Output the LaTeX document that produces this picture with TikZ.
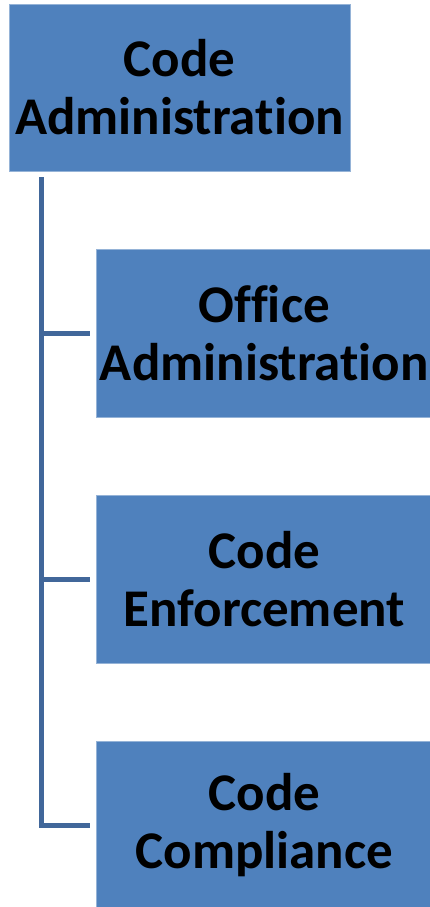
\documentclass[tikz,border=0pt]{standalone}
\usepackage{fontspec}
\setmainfont[Ligatures={NoCommon}]{Carlito}
\definecolor{boxblue}{HTML}{4F81BD}
\definecolor{lineblue}{HTML}{41679A}
\begin{document}
\begin{tikzpicture}[x=1pt,y=-1pt,
  orgbox/.style={fill=boxblue, draw=boxblue!60!white, line width=0.6pt, inner sep=0pt,
    align=center, font=\bfseries\fontsize{53}{58}\selectfont, text=black},
  conn/.style={draw=lineblue, line width=5pt}]
\useasboundingbox (0,0) rectangle (430,907);
\node[orgbox, minimum width=341pt, minimum height=167pt] (root) at (179.5,87.5) {Code\\Administration};
\node[orgbox, minimum width=336pt, minimum height=168pt, anchor=west] (c1) at (96,333) {Office\\Administration};
\node[orgbox, minimum width=336pt, minimum height=168pt, anchor=west] (c2) at (96,579) {Code\\Enforcement};
\node[orgbox, minimum width=336pt, minimum height=168pt, anchor=west] (c3) at (96,825) {Code\\Compliance};
\coordinate (top) at (41,177);
\coordinate (e1) at (90,333);
\coordinate (e2) at (90,579);
\coordinate (e3) at (90,825);
\draw[conn] (top) |- (e3);
\draw[conn] (top |- e1) -- (e1);
\draw[conn] (top |- e2) -- (e2);
\end{tikzpicture}
\end{document}
